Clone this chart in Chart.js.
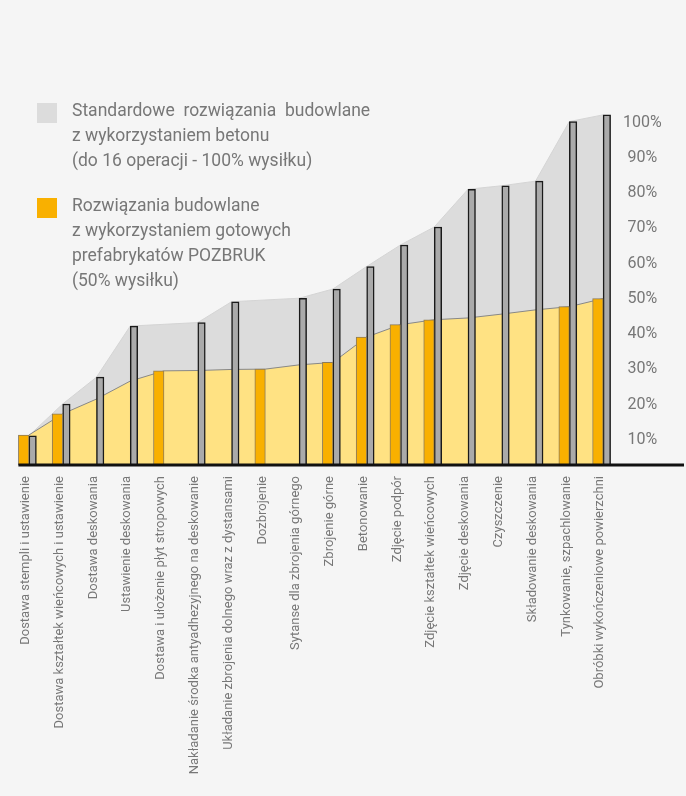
<!DOCTYPE html>
<html>
<head>
<meta charset="utf-8">
<script src="https://cdn.jsdelivr.net/npm/chart.js@4.4.0/dist/chart.umd.min.js"></script>
<style>
  body { margin: 0; background: #f5f5f5; }
  #wrap { position: relative; width: 686px; height: 796px; }
  .legend { position: absolute; left: 37px; font-family: Roboto, sans-serif; font-size: 17.5px; line-height: 25px; color: #777; }
  .legend .box { position: absolute; left: 0; top: 5px; width: 20px; height: 20px; }
  .legend .txt { margin-left: 35px; white-space: pre; }
</style>
</head>
<body>
<div id="wrap">
  <canvas id="chart" width="686" height="796"></canvas>
  <div class="legend" style="top:98px">
    <div class="box" style="background:#dcdcdc"></div>
    <div class="txt">Standardowe  rozwiązania  budowlane
z wykorzystaniem betonu
(do 16 operacji - 100% wysiłku)</div>
  </div>
  <div class="legend" style="top:193px">
    <div class="box" style="background:#f9b000"></div>
    <div class="txt">Rozwiązania budowlane
z wykorzystaniem gotowych
prefabrykatów POZBRUK
(50% wysiłku)</div>
  </div>
</div>
<script>
const categories = [
    'Dostawa stempli i ustawienie',
    'Dostawa kształtek wieńcowych i ustawienie',
    'Dostawa deskowania',
    'Ustawienie deskowania',
    'Dostawa i ułożenie płyt stropowych',
    'Nakładanie środka antyadhezyjnego na deskowanie',
    'Układanie zbrojenia dolnego wraz z dystansami',
    'Dozbrojenie',
    'Sytanse dla zbrojenia górnego',
    'Zbrojenie górne',
    'Betonowanie',
    'Zdjęcie podpór',
    'Zdjęcie kształtek wieńcowych',
    'Zdjęcie deskowania',
    'Czyszczenie',
    'Składowanie deskowania',
    'Tynkowanie, szpachlowanie',
    'Obróbki wykończeniowe powierzchni'
];

// standardowe (beton) - szare słupki i szary obszar
const standard = [11.2, 20.2, 27.8, 42.3, null, 43.3, 49.2, null, 50.2, 52.8, 59.2, 65.3, 70.4, 81.1, 82.1, 83.4, 100.3, 102.2];
// prefabrykaty - żółty obszar
const prefab = [11.4, 17.4, 21.6, 26.7, 29.6, 29.7, 30.0, 30.1, 31.3, 32.0, 39.2, 42.7, 44.1, 44.6, 45.7, 46.9, 47.8, 50.1];
// prefabrykaty - pomarańczowe słupki
const prefabBars = [11.4, 17.4, null, null, 29.6, null, null, 30.1, null, 32.0, 39.2, 42.7, 44.1, null, null, null, 47.8, 50.1];
const yTicks = [10, 20, 30, 40, 50, 60, 70, 80, 90, 100];

const baseline = {
    id: 'baseline',
    afterDatasetsDraw(chart) {
        const { ctx, chartArea, scales } = chart;
        const first = chart.getDatasetMeta(0).data[0];
        ctx.save();
        ctx.strokeStyle = '#111';
        ctx.lineWidth = 3;
        ctx.beginPath();
        ctx.moveTo(first.x - first.width / 2, chartArea.bottom);
        ctx.lineTo(scales.y.right - 2, chartArea.bottom);
        ctx.stroke();
        ctx.restore();
    }
};

new Chart(document.getElementById('chart'), {
    type: 'bar',
    data: {
        labels: categories,
        datasets: [
            {
                data: prefabBars,
                backgroundColor: '#f9b000',
                borderColor: '#8c7b5a',
                borderWidth: 1,
                barThickness: 10.5,
                order: 0
            },
            {
                data: standard,
                backgroundColor: '#aaaaaa',
                borderColor: '#1a1a1a',
                borderWidth: 1.5,
                barThickness: 7.5,
                order: 0
            },
            {
                type: 'line',
                data: prefab,
                fill: 'origin',
                backgroundColor: '#ffe283',
                borderColor: '#888',
                borderWidth: 1,
                pointRadius: 0,
                order: 1
            },
            {
                type: 'line',
                data: standard,
                fill: 'origin',
                spanGaps: true,
                backgroundColor: '#dcdcdc',
                borderColor: '#d4d4d4',
                borderWidth: 1,
                pointRadius: 0,
                order: 2
            }
        ]
    },
    options: {
        responsive: false,
        animation: false,
        layout: { padding: { left: 12, right: 0, top: 105, bottom: 11 } },
        scales: {
            x: {
                grid: { display: false, drawTicks: false },
                border: { display: false },
                afterFit: (scale) => { scale.height = 320; },
                ticks: {
                    autoSkip: false,
                    maxRotation: 90,
                    minRotation: 90,
                    padding: 11,
                    labelOffset: -3,
                    color: '#777',
                    font: { family: 'Roboto', size: 13 }
                }
            },
            y: {
                position: 'right',
                min: 2.9,
                max: 105,
                grid: { display: false, drawTicks: false },
                border: { display: false },
                afterFit: (scale) => { scale.width = 66; },
                afterBuildTicks: (scale) => { scale.ticks = yTicks.map(v => ({ value: v })); },
                ticks: {
                    padding: 3,
                    crossAlign: 'center',
                    color: '#777',
                    font: { family: 'Roboto', size: 16 },
                    callback: (v) => v + '%'
                }
            }
        },
        plugins: {
            legend: { display: false },
            tooltip: { enabled: false }
        }
    },
    plugins: [baseline]
});
</script>
</body>
</html>
